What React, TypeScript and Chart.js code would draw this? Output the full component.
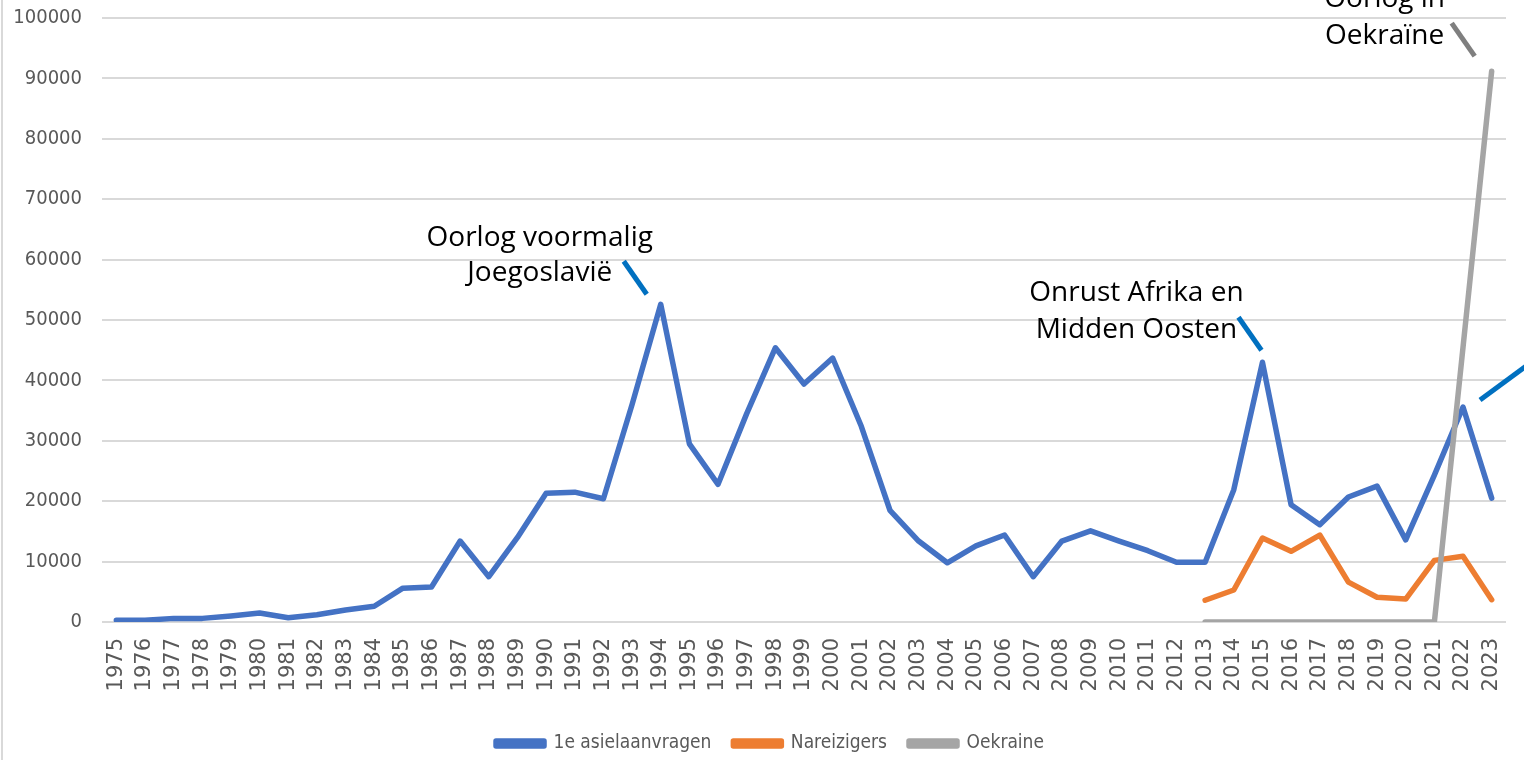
import { useEffect, useRef } from 'react';
import { Chart, registerables } from 'chart.js';

Chart.register(...registerables);

const years = [
  '1975', '1976', '1977', '1978', '1979', '1980', '1981', '1982', '1983', '1984',
  '1985', '1986', '1987', '1988', '1989', '1990', '1991', '1992', '1993', '1994',
  '1995', '1996', '1997', '1998', '1999', '2000', '2001', '2002', '2003', '2004',
  '2005', '2006', '2007', '2008', '2009', '2010', '2011', '2012', '2013', '2014',
  '2015', '2016', '2017', '2018', '2019', '2020', '2021', '2022', '2023',
];

const asielaanvragen = [
  300, 300, 600, 600, 1000, 1500, 700, 1200, 2000, 2600,
  5600, 5800, 13400, 7500, 14000, 21300, 21500, 20400, 36000, 52600,
  29500, 22800, 34500, 45400, 39400, 43700, 32400, 18500, 13400, 9800,
  12600, 14400, 7500, 13400, 15100, 13400, 11800, 9900, 9900, 21900,
  43000, 19400, 16100, 20700, 22500, 13600, 24300, 35600, 20500,
];

const nareizigersYears = ['2013', '2014', '2015', '2016', '2017', '2018', '2019', '2020', '2021', '2022', '2023'];
const nareizigers = [3600, 5300, 13900, 11700, 14400, 6600, 4100, 3800, 10200, 10900, 3700];

const oekraineYears = ['2013', '2014', '2015', '2016', '2017', '2018', '2019', '2020', '2021', '2022', '2023'];
const oekraine = [0, 0, 0, 0, 0, 0, 0, 0, 0, 45500, 91200];

const yTickValues = [0, 10000, 20000, 30000, 40000, 50000, 60000, 70000, 80000, 90000, 100000];

const seriesNames = ['1e asielaanvragen', 'Nareizigers', 'Oekraine'];
const seriesColors = ['#4472C4', '#ED7D31', '#A5A5A5'];

const annotationTexts = [
  ['Oorlog voormalig', 'Joegoslavië'],
  ['Onrust Afrika en', 'Midden Oosten'],
  ['Oorlog in', 'Oekraïne'],
];

const narrowFont = "'Liberation Sans Narrow', 'DejaVu Sans Condensed', 'Liberation Sans', sans-serif";
const noteFont = "'Open Sans', 'Noto Sans', sans-serif";

const bgPlugin = {
  id: 'bg',
  afterLayout(chart: any) {
    const lg = chart.legend;
    if (lg) {
      lg.left += 17;
      lg.right += 17;
      lg.top += 3;
      lg.bottom += 3;
    }
  },
  beforeDraw(chart: any) {
    const ctx = chart.ctx;
    ctx.save();
    ctx.fillStyle = '#ffffff';
    ctx.fillRect(0, 0, chart.width, chart.height);
    ctx.fillStyle = '#d9d9d9';
    ctx.fillRect(1, 0, 2, chart.height);
    ctx.restore();
  },
};

const notePlugin = {
  id: 'notes',
  afterDatasetsDraw(chart: any) {
    const ctx = chart.ctx;
    const xs = chart.scales.x;
    const ys = chart.scales.y;
    const anchor = (yearArr: string[], vals: number[], year: string) => {
      const i = yearArr.indexOf(year);
      return { x: xs.getPixelForValue(years.indexOf(year)), y: ys.getPixelForValue(vals[i]) };
    };
    const leader = (x1: number, y1: number, x2: number, y2: number, color: string) => {
      ctx.save();
      ctx.strokeStyle = color;
      ctx.lineWidth = 5;
      ctx.lineCap = 'butt';
      ctx.beginPath();
      ctx.moveTo(x1, y1);
      ctx.lineTo(x2, y2);
      ctx.stroke();
      ctx.restore();
    };
    const text = (lines: string[], cx: number, cy1: number, cy2: number) => {
      ctx.save();
      ctx.fillStyle = '#000000';
      ctx.font = `28px ${noteFont}`;
      ctx.textAlign = 'center';
      ctx.textBaseline = 'middle';
      ctx.fillText(lines[0], cx, cy1);
      ctx.fillText(lines[1], cx, cy2);
      ctx.restore();
    };

    const a = anchor(years, asielaanvragen, '1994');
    leader(a.x - 14, a.y - 10, a.x - 37, a.y - 43, '#0070C0');
    text(annotationTexts[0], a.x - 121, a.y - 66, a.y - 31);

    const b = anchor(years, asielaanvragen, '2015');
    leader(b.x - 1, b.y - 12, b.x - 24, b.y - 45, '#0070C0');
    text(annotationTexts[1], b.x - 126, b.y - 69, b.y - 32);

    const c = anchor(years, asielaanvragen, '2022');
    leader(c.x + 17, c.y - 7, c.x + 70, c.y - 46, '#0070C0');

    const d = anchor(oekraineYears, oekraine, '2023');
    leader(d.x - 17, d.y - 15, d.x - 40, d.y - 48, '#7F7F7F');
    text(annotationTexts[2], d.x - 107, d.y - 72, d.y - 35);
  },
};

export default function App() {
  const ref = useRef<HTMLCanvasElement>(null);

  useEffect(() => {
    document.body.style.margin = '0';
    const canvas = ref.current!;
    const toPoints = (ys: string[], vs: number[]) => ys.map((y, i) => ({ x: y, y: vs[i] }));
    const lineStyle = {
      borderWidth: 5.5,
      pointRadius: 0,
      borderJoinStyle: 'round' as const,
      borderCapStyle: 'round' as const,
    };
    const chart = new Chart(canvas, {
      type: 'line',
      data: {
        labels: years,
        datasets: [
          {
            label: seriesNames[0],
            data: asielaanvragen,
            borderColor: seriesColors[0],
            backgroundColor: seriesColors[0],
            ...lineStyle,
            order: 3,
          },
          {
            label: seriesNames[1],
            data: toPoints(nareizigersYears, nareizigers) as any,
            borderColor: seriesColors[1],
            backgroundColor: seriesColors[1],
            ...lineStyle,
            order: 2,
          },
          {
            label: seriesNames[2],
            data: toPoints(oekraineYears, oekraine) as any,
            borderColor: seriesColors[2],
            backgroundColor: seriesColors[2],
            ...lineStyle,
            order: 1,
          },
        ],
      },
      options: {
        responsive: false,
        animation: false,
        devicePixelRatio: 1,
        layout: { padding: { top: 18, right: 18, left: 0, bottom: 0 } },
        scales: {
          x: {
            type: 'category',
            offset: true,
            grid: { display: false, drawTicks: false },
            border: { display: false },
            ticks: {
              autoSkip: false,
              maxRotation: 90,
              minRotation: 90,
              padding: 16,
              color: '#595959',
              font: { family: "'DejaVu Sans', sans-serif", size: 21 },
            },
            afterFit(scale: any) {
              scale.height = 87;
              scale.paddingLeft = 0;
              scale.paddingRight = 0;
            },
          },
          y: {
            min: 0,
            max: 100000,
            afterBuildTicks(scale: any) {
              scale.ticks = yTickValues.map((v) => ({ value: v }));
            },
            grid: { color: '#d9d9d9', lineWidth: 2, drawTicks: false },
            border: { display: false },
            ticks: {
              padding: 20,
              color: '#595959',
              font: { family: narrowFont, size: 20 },
              callback: (v: any) => String(v),
            },
            afterFit(scale: any) {
              scale.width = 102;
              scale.paddingTop = 0;
              scale.paddingBottom = 0;
            },
          },
        },
        plugins: {
          tooltip: { enabled: false },
          legend: {
            position: 'bottom',
            labels: {
              boxWidth: 48,
              boxHeight: 5,
              padding: 22,
              color: '#595959',
              font: { family: narrowFont, size: 19 },
              sort: (a: any, b: any) => a.datasetIndex - b.datasetIndex,
            },
          },
        },
      },
      plugins: [bgPlugin, notePlugin],
    });
    return () => chart.destroy();
  }, []);

  return (
    <div style={{ position: 'absolute', left: 0, top: 0, width: 1524, height: 760 }}>
      <canvas ref={ref} width={1524} height={760} />
    </div>
  );
}
